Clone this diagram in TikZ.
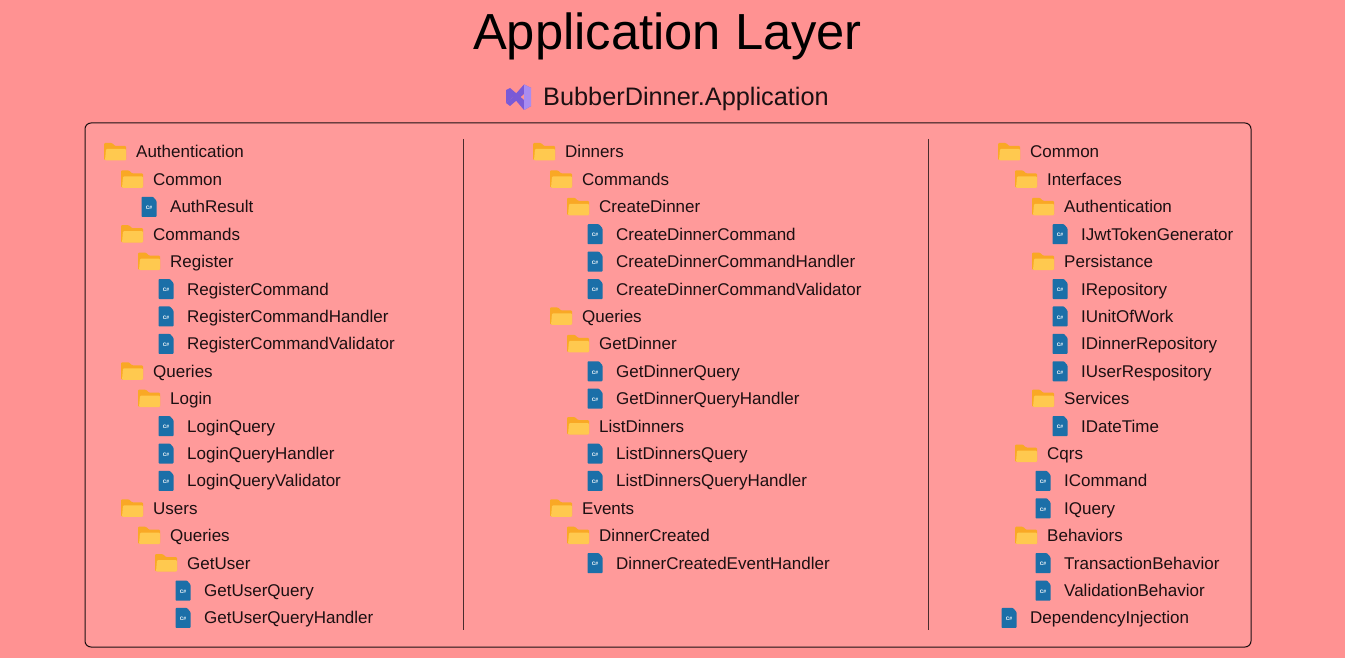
\documentclass[tikz,border=0pt]{standalone}
\usepackage{fontspec}
\setmainfont{Liberation Sans}
\definecolor{bgout}{HTML}{FF9292}
\definecolor{bgin}{HTML}{FF9A9A}
\definecolor{ink}{HTML}{1C1012}
\definecolor{foldback}{HTML}{F9A825}
\definecolor{foldfront}{HTML}{FFC94F}
\definecolor{fileblue}{HTML}{1B6FA8}
\definecolor{vsdark}{HTML}{7A5AD6}
\definecolor{vslight}{HTML}{A98CF0}
\tikzset{
  x=1pt,y=-1pt,
  lbl/.style={anchor=base west,inner sep=0pt,text=ink,font=\fontsize{17}{20}\selectfont},
  frameline/.style={draw=ink,line width=1pt},
  divider/.style={draw=ink!80!bgin,line width=0.8pt},
}
\newcommand{\foldericon}[2]{%
  \fill[foldback,rounded corners=1pt] (#1-11,#2-9) -- (#1-3,#2-9) -- (#1,#2-6) -- (#1+11,#2-6) -- (#1+11,#2+8) -- (#1-11,#2+8) -- cycle;
  \fill[foldfront,rounded corners=1pt] (#1-9,#2-3) -- (#1+11,#2-3) -- (#1+11,#2+8.5) -- (#1-10,#2+8.5) -- cycle;
}
\newcounter{rowid}
\newcommand{\treerow}[5]{% base x, level, row, type, text
  \stepcounter{rowid}%
  \pgfmathsetmacro{\tx}{#1+17*#2}%
  \pgfmathsetmacro{\ty}{152+27.41*#3}%
  \pgfmathsetmacro{\ix}{\tx-21}%
  \ifnum#4=0 \foldericon{\ix}{\ty}\else
  \fill[fileblue,rounded corners=0.8pt] (\ix-7.5,\ty-10) -- (\ix+4,\ty-10) -- (\ix+7.5,\ty-6) -- (\ix+7.5,\ty+10) -- (\ix-7.5,\ty+10) -- cycle;
  \node[inner sep=0pt,text=white,font=\fontsize{5}{5}\bfseries\selectfont] (cs\therowid) at (\ix,\ty+1) {C\#};
  \fi
  \node[lbl] (t\therowid) at (\tx,\ty+6) {#5};
}
\begin{document}
\begin{tikzpicture}
\useasboundingbox (0,0) rectangle (1345,658);
\fill[bgout] (0,0) rectangle (1345,658);
\node[anchor=base,inner sep=0pt,text=black,font=\fontsize{50.7}{56}\selectfont] (title) at (667.5,50) {Application Layer};
\node[anchor=base west,inner sep=0pt,text=ink,font=\fontsize{25.3}{30}\selectfont] (subtitle) at (543,105.5) {BubberDinner.Application};
% Visual Studio logo
\fill[vsdark] (506,90) -- (510,88) -- (531,106) -- (524,110) -- (513,97) -- (506,103) -- cycle;
\fill[vsdark] (506,103) -- (510,106) -- (531,88) -- (524,84.5) -- (513,97) -- cycle;
\fill[vslight] (524,84.5) -- (531,88) -- (531,106) -- (524,110) -- cycle;
\path[frameline,fill=bgin,rounded corners=6pt] (85,123) rectangle (1251,647);
\coordinate (d1a) at (463.5,139); \coordinate (d1b) at (463.5,630);
\coordinate (d2a) at (928.5,139); \coordinate (d2b) at (928.5,630);
\draw[divider] (d1a) -- (d1b);
\draw[divider] (d2a) -- (d2b);
% column 1
\treerow{136}{0}{0}{0}{Authentication}
\treerow{136}{1}{1}{0}{Common}
\treerow{136}{2}{2}{1}{AuthResult}
\treerow{136}{1}{3}{0}{Commands}
\treerow{136}{2}{4}{0}{Register}
\treerow{136}{3}{5}{1}{RegisterCommand}
\treerow{136}{3}{6}{1}{RegisterCommandHandler}
\treerow{136}{3}{7}{1}{RegisterCommandValidator}
\treerow{136}{1}{8}{0}{Queries}
\treerow{136}{2}{9}{0}{Login}
\treerow{136}{3}{10}{1}{LoginQuery}
\treerow{136}{3}{11}{1}{LoginQueryHandler}
\treerow{136}{3}{12}{1}{LoginQueryValidator}
\treerow{136}{1}{13}{0}{Users}
\treerow{136}{2}{14}{0}{Queries}
\treerow{136}{3}{15}{0}{GetUser}
\treerow{136}{4}{16}{1}{GetUserQuery}
\treerow{136}{4}{17}{1}{GetUserQueryHandler}
% column 2
\treerow{565}{0}{0}{0}{Dinners}
\treerow{565}{1}{1}{0}{Commands}
\treerow{565}{2}{2}{0}{CreateDinner}
\treerow{565}{3}{3}{1}{CreateDinnerCommand}
\treerow{565}{3}{4}{1}{CreateDinnerCommandHandler}
\treerow{565}{3}{5}{1}{CreateDinnerCommandValidator}
\treerow{565}{1}{6}{0}{Queries}
\treerow{565}{2}{7}{0}{GetDinner}
\treerow{565}{3}{8}{1}{GetDinnerQuery}
\treerow{565}{3}{9}{1}{GetDinnerQueryHandler}
\treerow{565}{2}{10}{0}{ListDinners}
\treerow{565}{3}{11}{1}{ListDinnersQuery}
\treerow{565}{3}{12}{1}{ListDinnersQueryHandler}
\treerow{565}{1}{13}{0}{Events}
\treerow{565}{2}{14}{0}{DinnerCreated}
\treerow{565}{3}{15}{1}{DinnerCreatedEventHandler}
% column 3
\treerow{1030}{0}{0}{0}{Common}
\treerow{1030}{1}{1}{0}{Interfaces}
\treerow{1030}{2}{2}{0}{Authentication}
\treerow{1030}{3}{3}{1}{IJwtTokenGenerator}
\treerow{1030}{2}{4}{0}{Persistance}
\treerow{1030}{3}{5}{1}{IRepository}
\treerow{1030}{3}{6}{1}{IUnitOfWork}
\treerow{1030}{3}{7}{1}{IDinnerRepository}
\treerow{1030}{3}{8}{1}{IUserRespository}
\treerow{1030}{2}{9}{0}{Services}
\treerow{1030}{3}{10}{1}{IDateTime}
\treerow{1030}{1}{11}{0}{Cqrs}
\treerow{1030}{2}{12}{1}{ICommand}
\treerow{1030}{2}{13}{1}{IQuery}
\treerow{1030}{1}{14}{0}{Behaviors}
\treerow{1030}{2}{15}{1}{TransactionBehavior}
\treerow{1030}{2}{16}{1}{ValidationBehavior}
\treerow{1030}{0}{17}{1}{DependencyInjection}
\end{tikzpicture}
\end{document}
